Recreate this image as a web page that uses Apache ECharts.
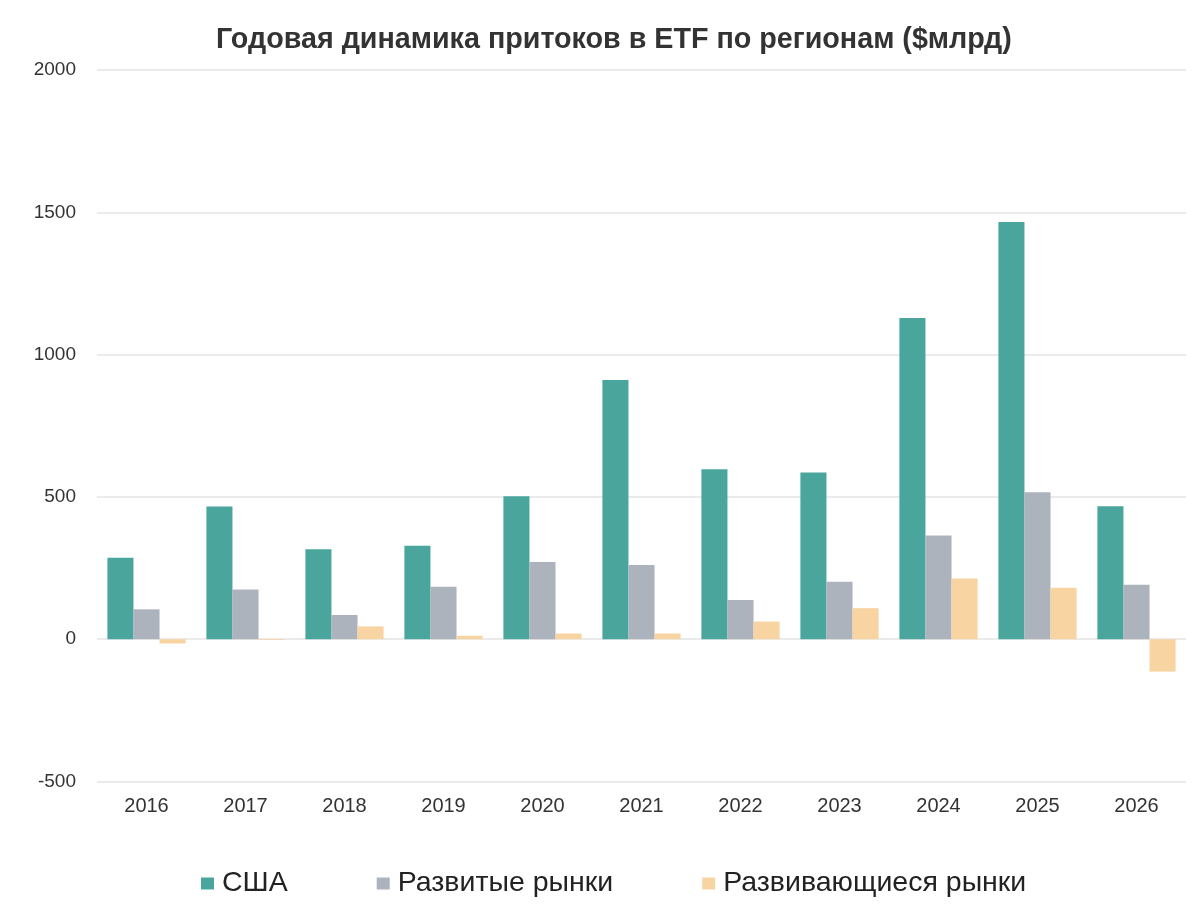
<!DOCTYPE html>
<html><head><meta charset="utf-8">
<script src="https://cdn.jsdelivr.net/npm/echarts@6/dist/echarts.min.js"></script>
<style>html,body{margin:0;padding:0;background:#fff}#c{width:1200px;height:913px}</style>
</head><body><div id="c"></div>
<script>
const categories = ['2016','2017','2018','2019','2020','2021','2022','2023','2024','2025','2026'];
const usa = [286, 466, 316, 328, 502, 911, 597, 586, 1129, 1466, 467];
const developed = [105, 175, 85, 184, 271, 261, 138, 202, 364, 516, 191];
const emerging = [-15, -3, 45, 12, 20, 20, 62, 109, 213, 181, -114];
const seriesNames = ['США', 'Развитые рынки', 'Развивающиеся рынки'];
const yTicks = {min: -500, max: 2000, interval: 500};

const chart = echarts.init(document.getElementById('c'));
const font = 'Liberation Sans, Arial, sans-serif';
chart.setOption({
  backgroundColor: '#fff',
  animation: false,
  title: {
    text: 'Годовая динамика притоков в ETF по регионам ($млрд)',
    left: 211, top: 21,
    textStyle: {fontFamily: font, fontSize: 28.7, fontWeight: 'bold', color: '#333'}
  },
  legend: {
    bottom: 10, left: 196,
    itemWidth: 13, itemHeight: 12, itemGap: 89,
    icon: 'rect',
    textStyle: {fontFamily: font, fontSize: 28.5, color: '#222', padding: [0,0,0,3]},
    data: seriesNames
  },
  grid: {left: 97, right: 14, top: 70, bottom: 131.5, containLabel: false},
  xAxis: {
    type: 'category', data: categories,
    axisLine: {show: false}, axisTick: {show: false},
    axisLabel: {fontFamily: font, fontSize: 20, color: '#333', margin: 15}
  },
  yAxis: {
    type: 'value', min: yTicks.min, max: yTicks.max, interval: yTicks.interval,
    axisLine: {show: false}, axisTick: {show: false},
    axisLabel: {fontFamily: font, fontSize: 19, color: '#333', margin: 21, formatter: v => String(v)},
    splitLine: {lineStyle: {color: '#e5e5e5', width: 1.5}}
  },
  series: [
    {name: seriesNames[0], type: 'bar', data: usa, barGap: '0%', barCategoryGap: '21%', itemStyle: {color: '#4aa69d'}},
    {name: seriesNames[1], type: 'bar', data: developed, barGap: '0%', barCategoryGap: '21%', itemStyle: {color: '#adb3bc'}},
    {name: seriesNames[2], type: 'bar', data: emerging, barGap: '0%', barCategoryGap: '21%', itemStyle: {color: '#f8d4a2'}}
  ]
});
</script></body></html>
